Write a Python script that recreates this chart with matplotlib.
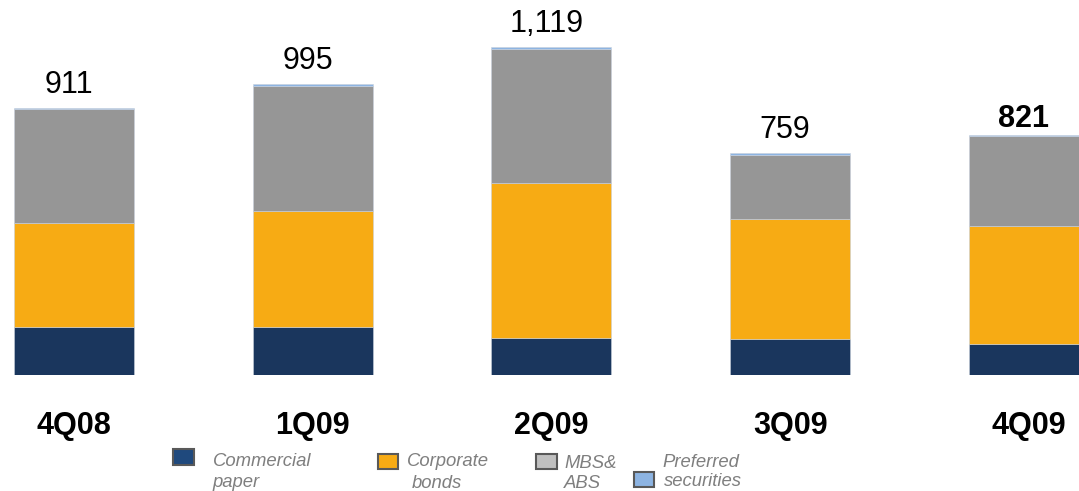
import matplotlib
matplotlib.use("Agg")
import matplotlib.pyplot as plt
from matplotlib.patches import Rectangle

plt.rcParams['font.family'] = ['Liberation Sans', 'DejaVu Sans']

# Quarterly holdings by instrument type
quarters = ["4Q08", "1Q09", "2Q09", "3Q09", "4Q09"]
commercial_paper = [163, 163, 127, 122, 107]
corporate_bonds = [355, 396, 528, 411, 402]
mbs_abs = [389, 429, 460, 219, 306]
preferred = [4, 7, 4, 7, 6]
bold_total = [False, False, False, False, True]

W, H = 1079, 491
fig = plt.figure(figsize=(W / 100, H / 100), dpi=100)
base_px = 116  # axes bottom, in pixels from figure bottom
ax = fig.add_axes([0, base_px / H, 1, 1 - base_px / H])

series = [
    (commercial_paper, "#1A365D"),
    (corporate_bonds, "#F7AB14"),
    (mbs_abs, "#969696"),
    (preferred, "#8DB4E2"),
]
x = list(range(len(quarters)))
bottom = [0] * len(quarters)
for vals, col in series:
    ax.bar(x, vals, width=0.503, bottom=bottom, color=col,
           edgecolor="#C9D1DC", linewidth=0.4)
    bottom = [b + v for b, v in zip(bottom, vals)]

ax.set_xlim(-0.310, 4.210)
ax.set_ylim(0, 1280.7)
ax.axis("off")

px2pt = 0.72
for i, tot in enumerate(bottom):
    bold = bold_total[i]
    ax.annotate(f"{tot:,}", xy=(i, tot), xytext=(-5 * px2pt, (7.5 if bold else 15) * px2pt),
                textcoords="offset points", ha="center", va="baseline",
                fontsize=22, fontweight="bold" if bold else "normal", color="black")
    ax.annotate(quarters[i], xy=(i, 0), xytext=(0, -59 * px2pt),
                textcoords="offset points", ha="center", va="baseline",
                fontsize=22, fontweight="bold", color="black")

# Legend drawn in figure pixel space
def fx(px):
    return px / W

def fy(py_top):
    return (H - py_top) / H

legend_items = [
    ("#1F497D", (173, 449, 21, 16), [("Commercial", 212.7, 466.5), ("paper", 212.7, 487)]),
    ("#F7AB14", (378, 454, 20, 15), [("Corporate", 407.3, 466.5), ("bonds", 412, 487.5)]),
    ("#C0C0C0", (536, 454, 21, 15), [("MBS&", 564, 468), ("ABS", 564, 487.5)]),
    ("#8DB4E2", (634, 472, 20, 15), [("Preferred", 662.7, 466.7), ("securities", 664, 486)]),
]
for col, (lx, ly, lw, lh), lines in legend_items:
    fig.add_artist(Rectangle((fx(lx), fy(ly + lh)), lw / W, lh / H,
                             transform=fig.transFigure, facecolor=col,
                             edgecolor="#595959", linewidth=1.5))
    for txt, tx, ty in lines:
        fig.text(fx(tx), fy(ty), txt, ha="left", va="baseline",
                 fontsize=13.3, style="italic", color="#7F7F7F")

fig.savefig("out.png", dpi=100)
